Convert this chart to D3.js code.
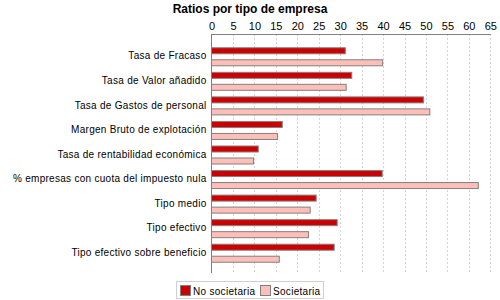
<!DOCTYPE html>
<html>
<head>
<meta charset="utf-8">
<script src="https://d3js.org/d3.v7.min.js"></script>
<style>
  body { margin: 0; background: #fff; }
  text { font-family: "Liberation Sans", Arial, sans-serif; }
</style>
</head>
<body>
<div id="chart"></div>
<script>
const categories = [
    "Tasa de Fracaso",
    "Tasa de Valor añadido",
    "Tasa de Gastos de personal",
    "Margen Bruto de explotación",
    "Tasa de rentabilidad económica",
    "% empresas con cuota del impuesto nula",
    "Tipo medio",
    "Tipo efectivo",
    "Tipo efectivo sobre beneficio"
];
const seriesNames = ["No societaria", "Societaria"];
const noSocietaria = [31.2, 32.7, 49.4, 16.5, 10.9, 39.8, 24.4, 29.3, 28.6];
const societaria = [39.9, 31.4, 50.9, 15.4, 9.8, 62.2, 23.0, 22.6, 15.8];
const xTicks = d3.range(0, 70, 5);
const colors = ["#cc0000", "#ffbfb8"];

const width = 500, height = 300;
const margin = { top: 34, right: 10, bottom: 27, left: 211.5 };

const svg = d3.select("#chart")
    .append("svg")
    .attr("width", width)
    .attr("height", height);

// title
svg.append("text")
    .attr("x", 250)
    .attr("y", 13)
    .attr("text-anchor", "middle")
    .style("font-size", "12px")
    .style("font-weight", "bold")
    .text("Ratios por tipo de empresa");

const x = d3.scaleLinear()
    .domain([0, 65])
    .range([margin.left, 490.3]);

const y = d3.scaleBand()
    .domain(categories)
    .range([44, 265])
    .padding(0);

// grid lines
svg.append("g")
    .selectAll("line")
    .data(xTicks.slice(1))
    .join("line")
    .attr("x1", d => Math.round(x(d)) + 0.5)
    .attr("x2", d => Math.round(x(d)) + 0.5)
    .attr("y1", margin.top)
    .attr("y2", height - margin.bottom)
    .attr("stroke", "#d4d4d4")
    .attr("stroke-dasharray", "2,2");

// top axis
const xAxis = svg.append("g")
    .attr("transform", `translate(0,${margin.top})`)
    .call(d3.axisTop(x).tickValues(xTicks).tickSize(0).tickPadding(4));
xAxis.select(".domain").attr("stroke", "#808080");
xAxis.selectAll("text")
    .style("font-size", "11px")
    .style("font-family", "Liberation Sans, Arial, sans-serif")
    .attr("fill", "#000");

// left axis
const yAxis = svg.append("g")
    .attr("transform", `translate(${margin.left},0)`)
    .call(d3.axisLeft(y).tickSize(0).tickPadding(5));
yAxis.select(".domain")
    .attr("d", `M0,${margin.top}V${height - margin.bottom}`)
    .attr("stroke", "#808080");
yAxis.selectAll("text")
    .style("font-size", "10px")
    .style("letter-spacing", "0.28px")
    .style("font-family", "Liberation Sans, Arial, sans-serif")
    .attr("fill", "#000");

// bars
const series = [noSocietaria, societaria];
const barH = 6;
series.forEach((vals, s) => {
    svg.append("g")
        .selectAll("rect")
        .data(categories)
        .join("rect")
        .attr("x", x(0))
        .attr("y", (d) => y(d) + y.bandwidth() / 2 + (s === 0 ? -9 : 3) + 0.5)
        .attr("width", (d, i) => x(vals[i]) - x(0))
        .attr("height", barH)
        .attr("fill", colors[s])
        .attr("stroke", "#808080")
        .attr("stroke-width", 1);
});

// legend
const legend = svg.append("g");
legend.append("rect")
    .attr("x", 176.5)
    .attr("y", 281.5)
    .attr("width", 147)
    .attr("height", 17)
    .attr("fill", "#fff")
    .attr("stroke", "#d0d0d0");
const legendX = [180, 260];
seriesNames.forEach((name, i) => {
    legend.append("rect")
        .attr("x", legendX[i] + 0.5)
        .attr("y", 285.5)
        .attr("width", 10)
        .attr("height", 10)
        .attr("fill", colors[i])
        .attr("stroke", "#808080");
    legend.append("text")
        .attr("x", legendX[i] + 13)
        .attr("y", 294.5)
        .style("font-size", "10px")
        .style("letter-spacing", "0.3px")
        .text(name);
});
</script>
</body>
</html>
